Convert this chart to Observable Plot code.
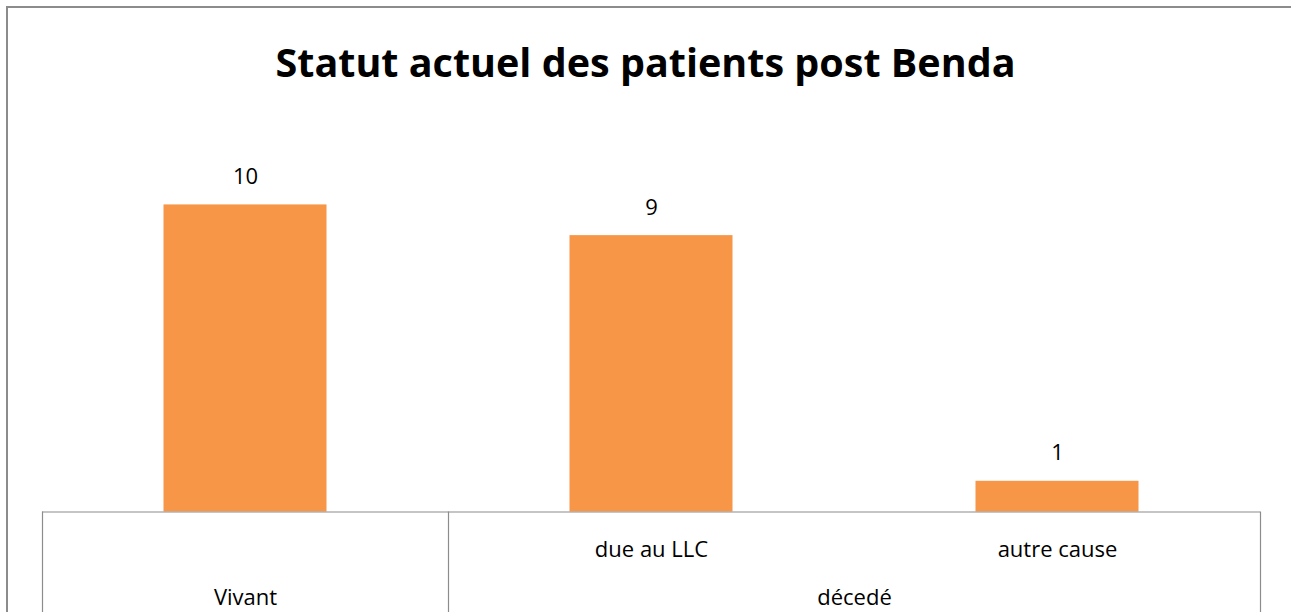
<!DOCTYPE html>
<html>
<head>
<meta charset="utf-8">
<script src="https://cdn.jsdelivr.net/npm/d3@7"></script>
<script src="https://cdn.jsdelivr.net/npm/@observablehq/plot@0.6"></script>
<style>
  html, body { margin: 0; padding: 0; background: #fff; overflow: hidden; }
  #wrap { position: relative; width: 1291px; height: 612px; overflow: hidden; }
  #border { position: absolute; left: 6px; top: 6px; width: 1400px; height: 700px; border: 2px solid #8c8c8c; box-sizing: border-box; }
  #title { position: absolute; left: 0; top: 0; width: 1291px; height: 100px; text-align: center;
           font-family: "Open Sans", sans-serif; font-weight: 700; font-size: 39.5px; line-height: 124px; color: #000; }
  #chart { position: absolute; left: 0; top: 100px; }
</style>
</head>
<body>
<div id="wrap">
  <div id="border"></div>
  <div id="title">Statut actuel des patients post Benda</div>
  <div id="chart"></div>
</div>
<script>
const categories = ["Vivant", "due au LLC", "autre cause"];
const groups = ["Vivant", "décedé", "décedé"];
const values = [10, 9, 1];
const groupLabels = ["Vivant", "décedé"];

const data = categories.map((c, i) => ({category: c, group: groups[i], value: values[i]}));

const width = 1291, height = 512;
const marginLeft = 42, marginRight = 31, marginBottom = 100.5, marginTop = 43;
const bw = (width - marginLeft - marginRight) / categories.length;

const groupSpans = groupLabels.map(g => {
  const members = data.filter(d => d.group === g).map(d => d.category);
  return {group: g, first: members[0], last: members[members.length - 1], n: members.length};
});

const font = "Open Sans, sans-serif";
const gray = "#8c8c8c";
const fs = 22;

const groupTextMarks = groupSpans.map(g =>
  Plot.text([g], {x: "first", y: 0, text: "group", dy: 86, dx: (g.n - 1) * bw / 2, fontSize: fs, fill: "#000"})
);

const chart = Plot.plot({
  width, height, marginLeft, marginRight, marginTop, marginBottom,
  style: {fontFamily: font, background: "transparent", overflow: "visible"},
  x: {domain: categories, padding: 0, axis: null},
  y: {domain: [0, 12], axis: null},
  marks: [
    Plot.barY(data, {x: "category", y: "value", fill: "#F79646", insetLeft: (bw - 163) / 2, insetRight: (bw - 163) / 2}),
    Plot.text(data, {x: "category", y: "value", text: d => String(d.value), dy: -28, fontSize: fs, fill: "#000"}),
    Plot.ruleY([0], {stroke: gray, strokeWidth: 1.2}),
    Plot.ruleX(groupSpans, {x: "first", y1: 0, y2: -3.4, dx: -bw / 2, stroke: gray, strokeWidth: 1.2}),
    Plot.ruleX([categories[categories.length - 1]], {y1: 0, y2: -3.4, dx: bw / 2, stroke: gray, strokeWidth: 1.2}),
    Plot.text(data.filter(d => groupSpans.find(g => g.group === d.group).n > 1),
      {x: "category", y: 0, text: "category", dy: 38, fontSize: fs, fill: "#000"}),
    ...groupTextMarks
  ]
});
document.getElementById("chart").appendChild(chart);
</script>
</body>
</html>
